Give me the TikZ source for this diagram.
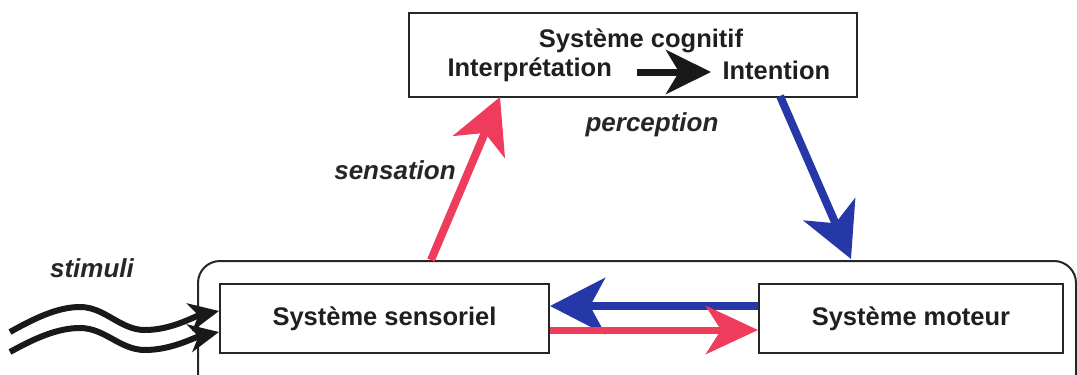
\documentclass[tikz,border=0pt]{standalone}
\usepackage{fontspec}
\setmainfont{Liberation Sans}
\usetikzlibrary{arrows.meta,calc}
\definecolor{sensred}{RGB}{240,60,92}
\definecolor{motblue}{RGB}{38,56,168}
\tikzset{
  boxfont/.style={font=\bfseries\fontsize{25.5}{28}\selectfont, text=black!88},
  sysbox/.style={draw=black!85, line width=2pt, minimum height=69pt, boxfont},
  lbl/.style={font=\bfseries\itshape\fontsize{26}{28}\selectfont, text=black!85},
  bigred/.style={draw=sensred, line width=8pt, -{Stealth[length=54pt,width=56pt,inset=15pt]}, color=sensred},
  bigblue/.style={draw=motblue, line width=8pt, -{Stealth[length=54pt,width=56pt,inset=15pt]}, color=motblue},
  stim/.style={draw=black!90, line width=6pt, -{Stealth[length=30pt,width=28pt,inset=9pt]}},
}
\begin{document}
\begin{tikzpicture}[x=1pt,y=-1pt]
\useasboundingbox (0,0) rectangle (1077,375);
% outer frame around the sensory and motor systems
\node[draw=black!85, line width=2pt, rounded corners=22pt, minimum width=878pt, minimum height=140pt, anchor=north west] (frame) at (197,260) {};
% the three systems
\node[sysbox, minimum width=448pt, minimum height=84pt, anchor=north west] (cog) at (408,12) {};
\node[boxfont] (cogtitle) at (641,41) {Système cognitif};
\node[boxfont, anchor=west] (interp) at (444,70) {Interprétation};
\node[boxfont, anchor=west] (intent) at (719,70) {Intention};
\node[sysbox, minimum width=329pt, anchor=north west] (sens) at (219,283) {Système sensoriel};
\node[sysbox, minimum width=304pt, anchor=north west] (mot) at (758,283) {Système moteur};
% internal step of the cognitive system
\draw[line width=7pt, -{Stealth[length=45pt,width=44pt,inset=13pt]}, black!90] ($(interp.east)+(22,2)$) -- ($(intent.west)+(-8,2)$);
% sensation and perception
\coordinate (sensfoot) at (431,260);
\coordinate (cogfoot) at (500,97);
\draw[bigred] (sensfoot) -- (cogfoot);
\coordinate (cogout) at (780,96);
\coordinate (motin) at (851,259);
\draw[bigblue] (cogout) -- (motin);
% exchange between sensory and motor systems
\draw[motblue, line width=8pt, -{Stealth[length=55pt,width=56pt,inset=15pt]}] (mot.west |- 0,306) -- (sens.east |- 0,306);
\draw[sensred, line width=7pt, -{Stealth[length=52pt,width=48pt,inset=15pt]}] (sens.east |- 0,330) -- (mot.west |- 0,330);
% incoming stimuli
\coordinate (s1) at (10,332);
\coordinate (s2) at (10,352);
\draw[stim] (s1) .. controls (35,318) and (58,307) .. (80,307) .. controls (105,307) and (120,330) .. (145,330) .. controls (172,330) and (195,316) .. (sens.west |- 0,311);
\draw[stim] (s2) .. controls (35,338) and (58,328) .. (80,328) .. controls (105,328) and (120,350) .. (145,350) .. controls (172,350) and (195,337) .. (sens.west |- 0,332);
% labels
\node[lbl] (lstim) at (92,268) {stimuli};
\node[lbl] (lsens) at (395,170) {sensation};
\node[lbl] (lperc) at (652,125) {perception};
\end{tikzpicture}
\end{document}
